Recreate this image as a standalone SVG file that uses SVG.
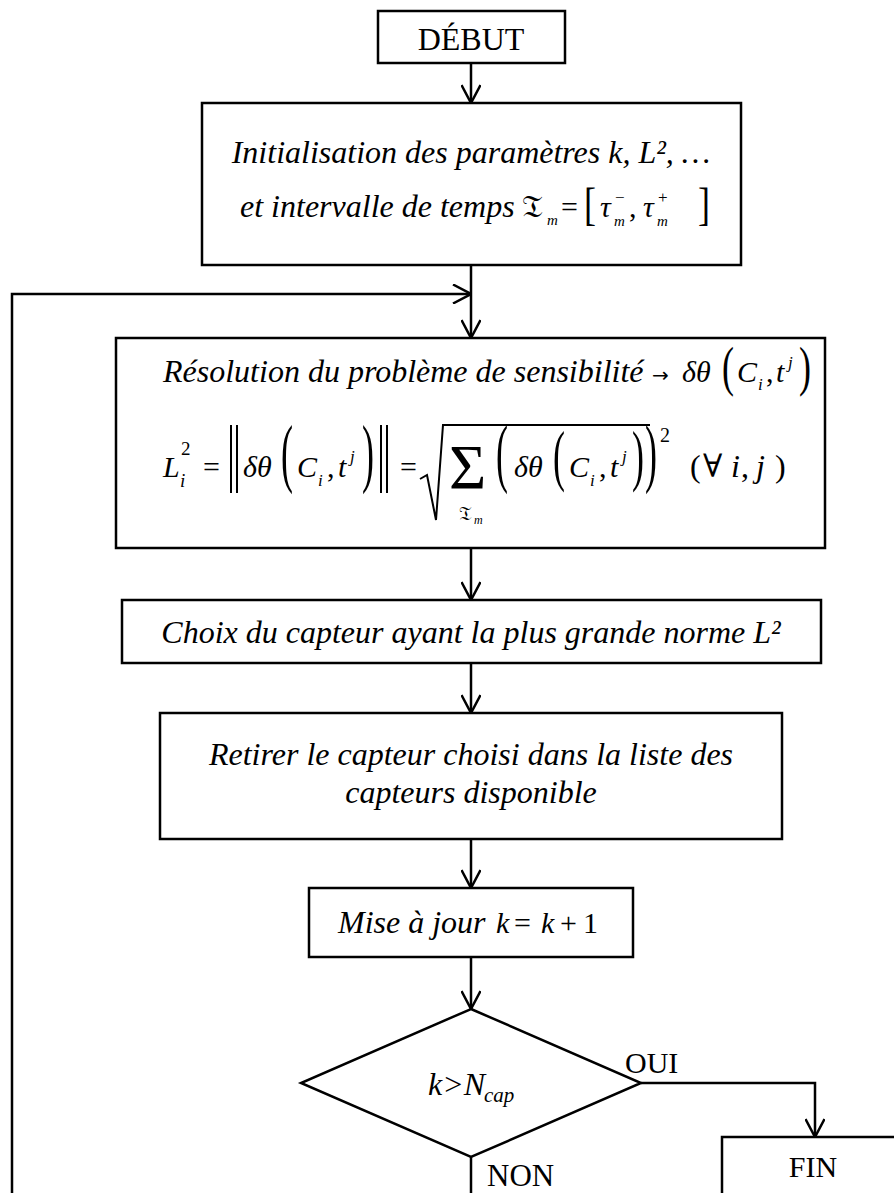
<svg xmlns="http://www.w3.org/2000/svg" width="894" height="1193" viewBox="0 0 894 1193">
<style>
.box{fill:#fff;stroke:#000;stroke-width:2.5}
.conn{fill:none;stroke:#000;stroke-width:2.5}
.t{font-family:'Liberation Serif','DejaVu Serif',serif;font-size:32px;fill:#000}
.i{font-style:italic}
.m{font-family:'Liberation Serif','DejaVu Serif',serif;font-size:30px;font-style:italic;fill:#000}
.u{font-family:'Liberation Serif','DejaVu Serif',serif;font-size:30px;font-style:normal;fill:#000}
.s{font-family:'Liberation Serif','DejaVu Serif',serif;font-size:19px;font-style:italic;fill:#000}
.su{font-family:'Liberation Serif','DejaVu Serif',serif;font-size:19px;font-style:normal;fill:#000}
.d{font-family:'Liberation Serif','DejaVu Serif',serif;font-size:36px;font-style:normal;fill:#000}
.fk{font-family:'DejaVu Sans','DejaVu Serif','Noto Sans',serif;fill:#000}
.ln{stroke:#000;stroke-width:2;fill:none}
</style>
<defs>
<marker id="ah" viewBox="0 0 20 20" refX="19" refY="10" markerWidth="20" markerHeight="20" markerUnits="userSpaceOnUse" orient="auto">
<path d="M1,0.5 L19,10 L1,19.5" fill="none" stroke="#000" stroke-width="2.5"/>
</marker>
</defs>

<g id="connectors">
<path class="conn" d="M471,63 V103" marker-end="url(#ah)"/>
<path class="conn" d="M471,265 V338" marker-end="url(#ah)"/>
<path class="conn" d="M12,1193 V294 H471" marker-end="url(#ah)"/>
<path class="conn" d="M471,548 V600" marker-end="url(#ah)"/>
<path class="conn" d="M471,663 V713" marker-end="url(#ah)"/>
<path class="conn" d="M471,839 V888" marker-end="url(#ah)"/>
<path class="conn" d="M471,957 V1009" marker-end="url(#ah)"/>
<path class="conn" d="M641,1083 H815 V1137" marker-end="url(#ah)"/>
<path class="conn" d="M471,1157 V1193"/>
</g>

<g id="debut">
<rect class="box" x="378" y="11" width="187" height="52"/>
<text class="t" x="471" y="50" text-anchor="middle">DÉBUT</text>
</g>

<g id="init">
<rect class="box" x="202" y="103" width="539" height="162"/>
<text class="t i" x="471" y="163" text-anchor="middle">Initialisation des paramètres k, L², …</text>
<text class="t i" x="240" y="217">et intervalle de temps</text>
<text class="fk" x="522" y="217" style="font-size:31px">𝔗</text>
<text class="s" x="547" y="225" style="font-size:15px">m</text>
<text class="u" x="561" y="217">=</text>
<text class="d" transform="translate(584,220) scale(1,1.3)">[</text>
<text class="m" x="600" y="217">τ</text>
<text class="su" x="615" y="203" style="font-size:17px">−</text>
<text class="s" x="614" y="226" style="font-size:15px">m</text>
<text class="u" x="629" y="217">,</text>
<text class="m" x="643" y="217">τ</text>
<text class="su" x="658" y="203" style="font-size:17px">+</text>
<text class="s" x="657" y="226" style="font-size:15px">m</text>
<text class="d" transform="translate(698,220) scale(1,1.3)">]</text>
</g>

<g id="resolution">
<rect class="box" x="116" y="338" width="709" height="210"/>
<text class="t i" x="163" y="382">Résolution du problème de sensibilité</text>
<text x="652" y="382" font-family="'DejaVu Sans',sans-serif" font-size="20" fill="#000">→</text>
<text class="m" x="682" y="382">δθ</text>
<text class="d" transform="translate(722,385) scale(1,1.5)">(</text>
<text class="m" x="737" y="382">C</text>
<text class="s" x="758" y="390" style="font-size:17px">i</text>
<text class="u" x="766" y="382">,</text>
<text class="m" x="776" y="382">t</text>
<text class="s" x="788" y="368" style="font-size:17px">j</text>
<text class="d" transform="translate(799,385) scale(1,1.5)">)</text>

<text class="m" x="163" y="477">L</text>
<text class="su" x="181" y="455">2</text>
<text class="s" x="180" y="487">i</text>
<text class="u" x="203" y="477">=</text>
<line class="ln" x1="231" y1="425" x2="231" y2="493"/>
<line class="ln" x1="237" y1="425" x2="237" y2="493"/>
<text class="m" x="243" y="477">δθ</text>
<text class="d" transform="translate(281,478) scale(1,2.1)">(</text>
<text class="m" x="297" y="477">C</text>
<text class="s" x="318" y="486" style="font-size:17px">i</text>
<text class="u" x="327" y="477">,</text>
<text class="m" x="338" y="477">t</text>
<text class="s" x="350" y="462" style="font-size:17px">j</text>
<text class="d" transform="translate(362,478) scale(1,2.1)">)</text>
<line class="ln" x1="381" y1="425" x2="381" y2="493"/>
<line class="ln" x1="387" y1="425" x2="387" y2="493"/>
<text class="u" x="400" y="477">=</text>
<path d="M420,479 L427,475 L436,520 L443,425 H650" fill="none" stroke="#000" stroke-width="2"/>
<text x="449" y="489" font-family="'Liberation Serif',serif" font-size="64" fill="#000">Σ</text>
<text class="fk" x="459" y="520" style="font-size:19px">𝔗</text>
<text class="s" x="474" y="524" style="font-size:12px">m</text>
<text class="d" transform="translate(496,478) scale(1,2.1)">(</text>
<text class="m" x="514" y="477">δθ</text>
<text class="d" transform="translate(553,478) scale(1,1.9)">(</text>
<text class="m" x="569" y="477">C</text>
<text class="s" x="590" y="486" style="font-size:17px">i</text>
<text class="u" x="599" y="477">,</text>
<text class="m" x="610" y="477">t</text>
<text class="s" x="622" y="462" style="font-size:17px">j</text>
<text class="d" transform="translate(632,478) scale(1,1.9)">)</text>
<text class="d" transform="translate(645,478) scale(1,2.1)">)</text>
<text class="su" x="660" y="442" style="font-size:20px">2</text>
<text class="u" x="690" y="477" style="font-size:32px">(</text>
<text class="u" x="703" y="477" style="font-size:32px">∀</text>
<text class="m" x="731" y="477" style="font-size:32px">i</text>
<text class="u" x="741" y="477" style="font-size:32px">,</text>
<text class="m" x="756" y="477" style="font-size:32px">j</text>
<text class="u" x="775" y="477" style="font-size:32px">)</text>
</g>

<g id="choix">
<rect class="box" x="122" y="600" width="699" height="63"/>
<text class="t i" x="471" y="643" text-anchor="middle">Choix du capteur ayant la plus grande norme L²</text>
</g>

<g id="retirer">
<rect class="box" x="160" y="713" width="622" height="126"/>
<text class="t i" x="471" y="765" text-anchor="middle">Retirer le capteur choisi dans la liste des</text>
<text class="t i" x="471" y="803" text-anchor="middle">capteurs disponible</text>
</g>

<g id="miseajour">
<rect class="box" x="309" y="888" width="324" height="69"/>
<text class="t i" x="338" y="933">Mise à jour</text>
<text class="m" x="496" y="933">k</text>
<text class="u" x="514" y="933">=</text>
<text class="m" x="541" y="933">k</text>
<text class="u" x="560" y="933">+</text>
<text class="u" x="583" y="933">1</text>
</g>

<g id="test">
<polygon class="box" points="471,1009 641,1083 471,1157 301,1083"/>
<text class="t i" x="428" y="1095">k&gt;N</text>
<text class="s" x="484" y="1102" style="font-size:21px">cap</text>
</g>

<g id="labels">
<text class="t" x="625" y="1073" style="font-size:30px">OUI</text>
<text class="t" x="487" y="1186" style="font-size:31px">NON</text>
</g>

<g id="fin">
<rect class="box" x="722" y="1137" width="190" height="70"/>
<text class="t" x="813" y="1177" text-anchor="middle" style="font-size:30px">FIN</text>
</g>
</svg>
